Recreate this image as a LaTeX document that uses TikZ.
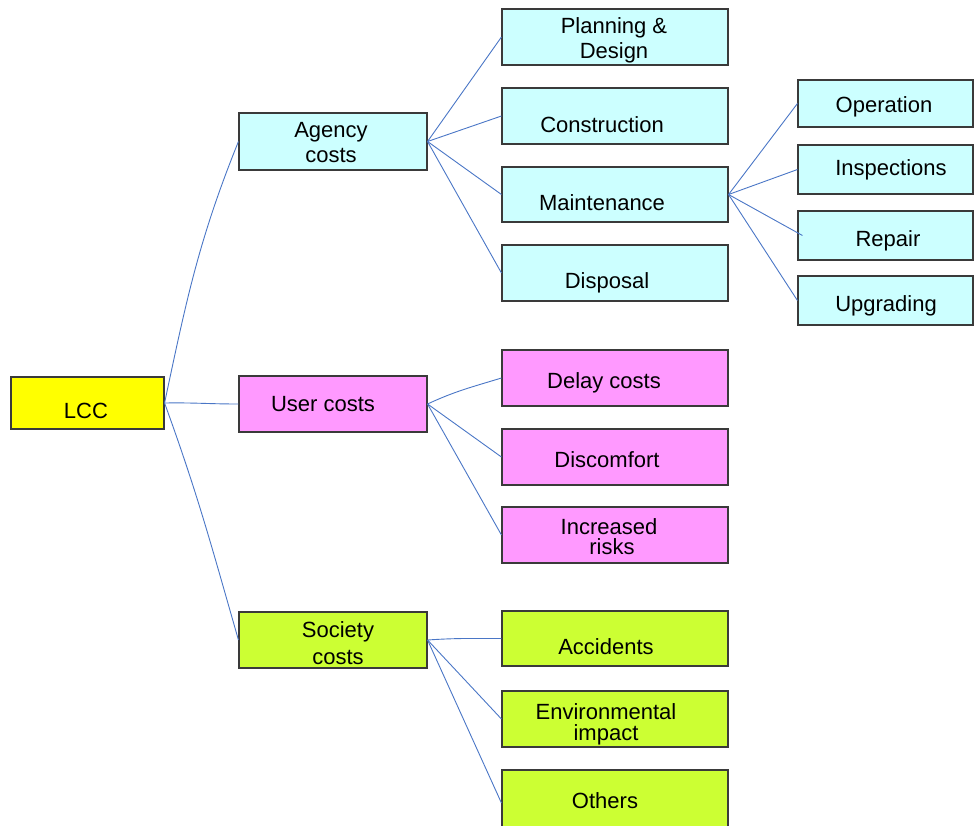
\documentclass[tikz,border=0pt]{standalone}
\usepackage{fontspec}
\setmainfont{Liberation Sans}
\definecolor{cyanbox}{HTML}{CCFFFF}
\definecolor{pinkbox}{HTML}{FF99FF}
\definecolor{yellowbox}{HTML}{FFFF00}
\definecolor{limebox}{HTML}{CCFF33}
\definecolor{conn}{HTML}{4A76C6}
\definecolor{edge}{HTML}{3A3A3A}
\tikzset{
  box/.style={draw=edge, line width=1.1pt, inner sep=0pt, rectangle},
  cbox/.style={box, fill=cyanbox},
  pbox/.style={box, fill=pinkbox},
  ybox/.style={box, fill=yellowbox},
  lbox/.style={box, fill=limebox},
  txt/.style={font=\fontsize{22}{25}\selectfont, anchor=base, inner sep=0pt, align=center},
  conn/.style={draw=conn, line width=0.9pt},
}
\begin{document}
\begin{tikzpicture}[x=1pt, y=-1pt]
\useasboundingbox (0,0) rectangle (974,825);
\clip (0,0) rectangle (974,825);
% boxes
\node[ybox, minimum width=153pt, minimum height=52pt] (lcc) at (87.5,403) {};
\node[cbox, minimum width=188pt, minimum height=57pt] (agency) at (333,141.5) {};
\node[pbox, minimum width=188pt, minimum height=56pt] (user) at (333,404) {};
\node[lbox, minimum width=188pt, minimum height=56pt] (society) at (333,640) {};
\node[cbox, minimum width=226pt, minimum height=56pt] (plan) at (615,37) {};
\node[cbox, minimum width=226pt, minimum height=56pt] (constr) at (615,116) {};
\node[cbox, minimum width=226pt, minimum height=55pt] (maint) at (615,194.5) {};
\node[cbox, minimum width=226pt, minimum height=56pt] (disp) at (615,273) {};
\node[pbox, minimum width=226pt, minimum height=56pt] (delay) at (615,378) {};
\node[pbox, minimum width=226pt, minimum height=56pt] (discomf) at (615,457) {};
\node[pbox, minimum width=226pt, minimum height=56pt] (risks) at (615,535) {};
\node[lbox, minimum width=226pt, minimum height=55pt] (accid) at (615,638.5) {};
\node[lbox, minimum width=226pt, minimum height=56pt] (envir) at (615,719) {};
\node[lbox, minimum width=226pt, minimum height=60pt] (others) at (615,800) {};
\node[cbox, minimum width=175pt, minimum height=47pt] (oper) at (885.5,103.5) {};
\node[cbox, minimum width=175pt, minimum height=49pt] (insp) at (885.5,169.5) {};
\node[cbox, minimum width=175pt, minimum height=49pt] (repair) at (885.5,235.5) {};
\node[cbox, minimum width=175pt, minimum height=49pt] (upgr) at (885.5,300.5) {};
% texts (multi-line texts are placed by the baseline of their last line)
\node[txt] (tlcc) at (86,418) {LCC};
\node[txt] (tagency) at (331,162) {Agency\\costs};
\node[txt] (tuser) at (323,411) {User costs};
\node[txt, font=\fontsize{22}{27}\selectfont] (tsociety) at (338,664) {Society\\costs};
\node[txt] (tplan) at (614,58) {Planning \&\\Design};
\node[txt] (tconstr) at (602,132) {Construction};
\node[txt] (tmaint) at (602,210) {Maintenance};
\node[txt] (tdisp) at (607,288) {Disposal};
\node[txt] (tdelay) at (604,388) {Delay costs};
\node[txt] (tdiscomf) at (607,467) {Discomfort};
\node[txt, font=\fontsize{22}{20}\selectfont] (trisks) at (609,554) {Increased\\\hspace*{6pt}risks};
\node[txt] (taccid) at (606,654) {Accidents};
\node[txt, font=\fontsize{22}{21}\selectfont] (tenvir) at (606,740) {Environmental\\impact};
\node[txt] (tothers) at (605,808) {Others};
\node[txt] (toper) at (884,112) {Operation};
\node[txt] (tinsp) at (891,175) {Inspections};
\node[txt] (trepair) at (888,246) {Repair};
\node[txt] (tupgr) at (886,311) {Upgrading};
% connectors
\draw[conn] (lcc.east) to[out=78, in=248] (agency.west);
\draw[conn] (lcc.east) to[out=1, in=180] (user.west);
\draw[conn] (lcc.east) to[out=-70, in=106] (society.west);
\draw[conn] (agency.east) -- (plan.west);
\draw[conn] (agency.east) -- (constr.west);
\draw[conn] (agency.east) -- (maint.west);
\draw[conn] (agency.east) -- (disp.west);
\draw[conn] (user.east) to[out=25, in=197] (delay.west);
\draw[conn] (user.east) -- (discomf.west);
\draw[conn] (user.east) -- (risks.west);
\draw[conn] (society.east) to[out=4, in=180] (accid.west);
\draw[conn] (society.east) -- (envir.west);
\draw[conn] (society.east) -- ([yshift=-3pt]others.west);
\draw[conn] (maint.east) -- (oper.west);
\draw[conn] (maint.east) -- (insp.west);
\draw[conn] (maint.east) -- ([xshift=5pt]repair.west);
\draw[conn] (maint.east) -- (upgr.west);
\end{tikzpicture}
\end{document}
